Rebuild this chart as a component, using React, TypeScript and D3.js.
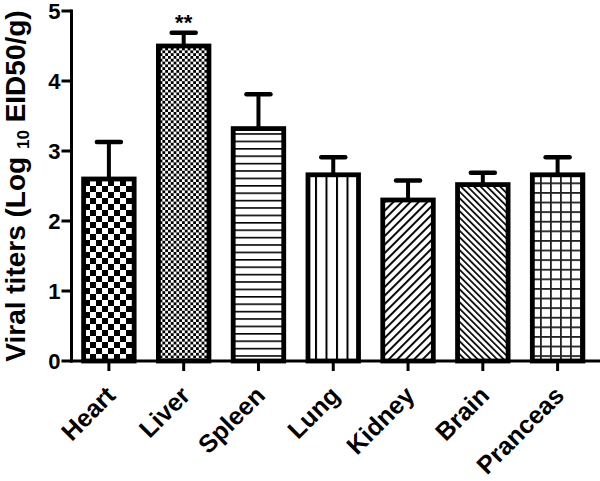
import React from "react";
import * as d3 from "d3";

const categories = ["Heart", "Liver", "Spleen", "Lung", "Kidney", "Brain", "Pranceas"];
const means = [2.6, 4.5, 3.32, 2.66, 2.3, 2.52, 2.66];
const sems = [0.53, 0.19, 0.49, 0.25, 0.28, 0.17, 0.25];
const yTicks = [0, 1, 2, 3, 4, 5];
const patterns = ["checker", "fineChecker", "hLines", "vLines", "diagUp", "diagDown", "grid"];

const W = 600;
const H = 481;
const FONT = "'Liberation Sans', Arial, Helvetica, sans-serif";

const App = () => {
  const margin = { left: 71.5, top: 11, bottom: 361, right: 595 };

  const x = d3
    .scaleBand()
    .domain(categories)
    .range([margin.left, margin.right])
    .paddingInner(0.26)
    .paddingOuter(0.13);

  const y = d3.scaleLinear().domain([0, 5]).range([margin.bottom, margin.top]);

  const bw = x.bandwidth();
  const sw = 4.8; // bar outline
  const capW = 28;

  return (
    <svg width={W} height={H} style={{ display: "block", position: "absolute", left: 0, top: 0, background: "#fff" }}>
      <defs>
        <pattern id="checker" patternUnits="userSpaceOnUse" width={12} height={12}>
          <rect width={12} height={12} fill="#fff" />
          <rect width={6} height={6} fill="#000" />
          <rect x={6} y={6} width={6} height={6} fill="#000" />
        </pattern>
        <pattern id="fineChecker" patternUnits="userSpaceOnUse" width={5.6} height={5.6}>
          <rect width={5.6} height={5.6} fill="#fff" />
          <rect width={2.8} height={2.8} fill="#000" />
          <rect x={2.8} y={2.8} width={2.8} height={2.8} fill="#000" />
        </pattern>
        <pattern id="hLines" patternUnits="userSpaceOnUse" width={10} height={7.4}>
          <rect width={10} height={7.4} fill="#fff" />
          <rect y={0} width={10} height={1.6} fill="#000" />
        </pattern>
        <pattern id="vLines" patternUnits="userSpaceOnUse" width={10.5} height={10}>
          <rect width={10.5} height={10} fill="#fff" />
          <rect x={0} width={2} height={10} fill="#000" />
        </pattern>
        <pattern id="diagUp" patternUnits="userSpaceOnUse" width={6} height={6} patternTransform="rotate(45)">
          <rect width={6} height={6} fill="#fff" />
          <rect width={1.9} height={6} fill="#000" />
        </pattern>
        <pattern id="diagDown" patternUnits="userSpaceOnUse" width={4.6} height={4.6} patternTransform="rotate(-45)">
          <rect width={4.6} height={4.6} fill="#fff" />
          <rect width={1.7} height={4.6} fill="#000" />
        </pattern>
        <pattern id="grid" patternUnits="userSpaceOnUse" width={10} height={9.6}>
          <rect width={10} height={9.6} fill="#fff" />
          <rect width={1.8} height={9.6} fill="#222" />
          <rect width={10} height={1.8} fill="#222" />
        </pattern>
      </defs>

      {/* bars */}
      {categories.map((c, i) => {
        const x0 = x(c) as number;
        const cx = x0 + bw / 2;
        const top = y(means[i]);
        const upper = y(means[i] + sems[i]);
        return (
          <g key={c}>
            <line x1={cx} x2={cx} y1={top} y2={upper} stroke="#000" strokeWidth={4} />
            <line
              x1={cx - capW / 2 + 2}
              x2={cx + capW / 2 - 2}
              y1={upper}
              y2={upper}
              stroke="#000"
              strokeWidth={4.5}
              strokeLinecap="round"
            />
            <rect
              x={x0 + sw / 2}
              y={top}
              width={bw - sw}
              height={y(0) - top}
              fill={`url(#${patterns[i]})`}
              stroke="#000"
              strokeWidth={sw}
            />
          </g>
        );
      })}

      {/* significance */}
      <text
        x={(x("Liver") as number) + bw / 2}
        y={y(means[1] + sems[1]) - 3}
        textAnchor="middle"
        fontFamily={FONT}
        fontWeight="bold"
        fontSize={22}
      >
        **
      </text>

      {/* y axis */}
      <line x1={margin.left} x2={margin.left} y1={y(5) - 1.5} y2={y(0) + 1.5} stroke="#000" strokeWidth={3} />
      {yTicks.map((t) => (
        <g key={t}>
          <line x1={margin.left - 10} x2={margin.left} y1={y(t)} y2={y(t)} stroke="#000" strokeWidth={3} />
          <text
            x={margin.left - 11}
            y={y(t)}
            dy="0.36em"
            textAnchor="end"
            fontFamily={FONT}
            fontWeight="bold"
            fontSize={22}
          >
            {t}
          </text>
        </g>
      ))}

      {/* x axis */}
      <line x1={margin.left - 1.5} x2={W} y1={y(0)} y2={y(0)} stroke="#000" strokeWidth={3} />
      {categories.map((c) => {
        const cx = (x(c) as number) + bw / 2;
        return (
          <g key={c}>
            <line x1={cx} x2={cx} y1={y(0)} y2={y(0) + 10} stroke="#000" strokeWidth={3} />
            <text
              transform={`translate(${cx + 8},${397}) rotate(-45)`}
              textAnchor="end"
              fontFamily={FONT}
              fontWeight="bold"
              fontSize={25}
            >
              {c}
            </text>
          </g>
        );
      })}

      {/* y title */}
      <text
        transform={`translate(25,${186}) rotate(-90)`}
        textAnchor="middle"
        fontFamily={FONT}
        fontWeight="bold"
        fontSize={28}
      >
        Viral titers (Log{" "}
        <tspan fontSize={17} dy={4}>
          10
        </tspan>
        <tspan dy={-4}> EID50/g)</tspan>
      </text>
    </svg>
  );
};

export default App;
